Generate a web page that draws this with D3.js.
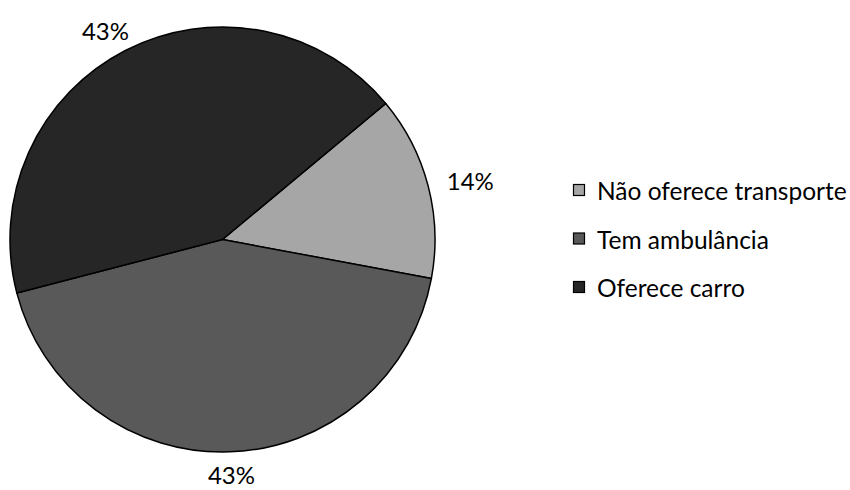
<!DOCTYPE html>
<html>
<head>
<meta charset="utf-8">
<script src="https://cdn.jsdelivr.net/npm/d3@7"></script>
<style>
  html, body { margin: 0; padding: 0; background: #fff; }
  svg { display: block; }
  text { font-family: Lato, "Open Sans", sans-serif; fill: #000; }
</style>
</head>
<body>
<div id="chart"></div>
<script>
const categories = ["Não oferece transporte", "Tem ambulância", "Oferece carro"];
const values = [14, 43, 43];
const valueLabels = ["14%", "43%", "43%"];
const colors = ["#a6a6a6", "#595959", "#262626"];

const width = 850, height = 490;
const cx = 222.5, cy = 239.5, r = 212.5;
const startDeg = 50.2;

const svg = d3.select("#chart").append("svg")
  .attr("width", width).attr("height", height);

const pie = d3.pie().sort(null).value(d => d)
  .startAngle(startDeg * Math.PI / 180)
  .endAngle((startDeg + 360) * Math.PI / 180);
const arcs = pie(values);
const arc = d3.arc().innerRadius(0).outerRadius(r);

const g = svg.append("g").attr("transform", `translate(${cx},${cy})`);
g.selectAll("path").data(arcs).join("path")
  .attr("d", arc)
  .attr("fill", (d, i) => colors[i])
  .attr("stroke", "#000")
  .attr("stroke-width", 1.5)
  .attr("stroke-linejoin", "round");

// data labels outside end
const fs = 24;
const lbl = g.selectAll("text.lbl").data(arcs).join("text")
  .attr("class", "lbl")
  .attr("font-size", fs)
  .attr("text-anchor", "middle")
  .attr("dominant-baseline", "central")
  .text((d, i) => valueLabels[i]);
lbl.each(function(d) {
  const a = (d.startAngle + d.endAngle) / 2;
  const dx = Math.sin(a), dy = -Math.cos(a);
  const w = this.getComputedTextLength(), h = 6, gap = 20;
  const x = dx * (r + gap) + dx * w / 2;
  const y = dy * (r + gap) + dy * h / 2;
  d3.select(this).attr("x", x).attr("y", y);
});

// legend
const legX = 573, legY0 = 190.5, legStep = 48.5, sq = 12;
const leg = svg.append("g");
const items = leg.selectAll("g").data(categories).join("g")
  .attr("transform", (d, i) => `translate(${legX},${legY0 + i * legStep})`);
items.append("rect")
  .attr("x", 0.5).attr("y", -sq / 2)
  .attr("width", sq - 1).attr("height", sq - 1)
  .attr("fill", (d, i) => colors[i])
  .attr("stroke", "#000").attr("stroke-width", 1.2);
items.append("text")
  .attr("x", 24).attr("y", 0)
  .attr("dominant-baseline", "central")
  .attr("font-size", 24.5)
  .text(d => d);
</script>
</body>
</html>
